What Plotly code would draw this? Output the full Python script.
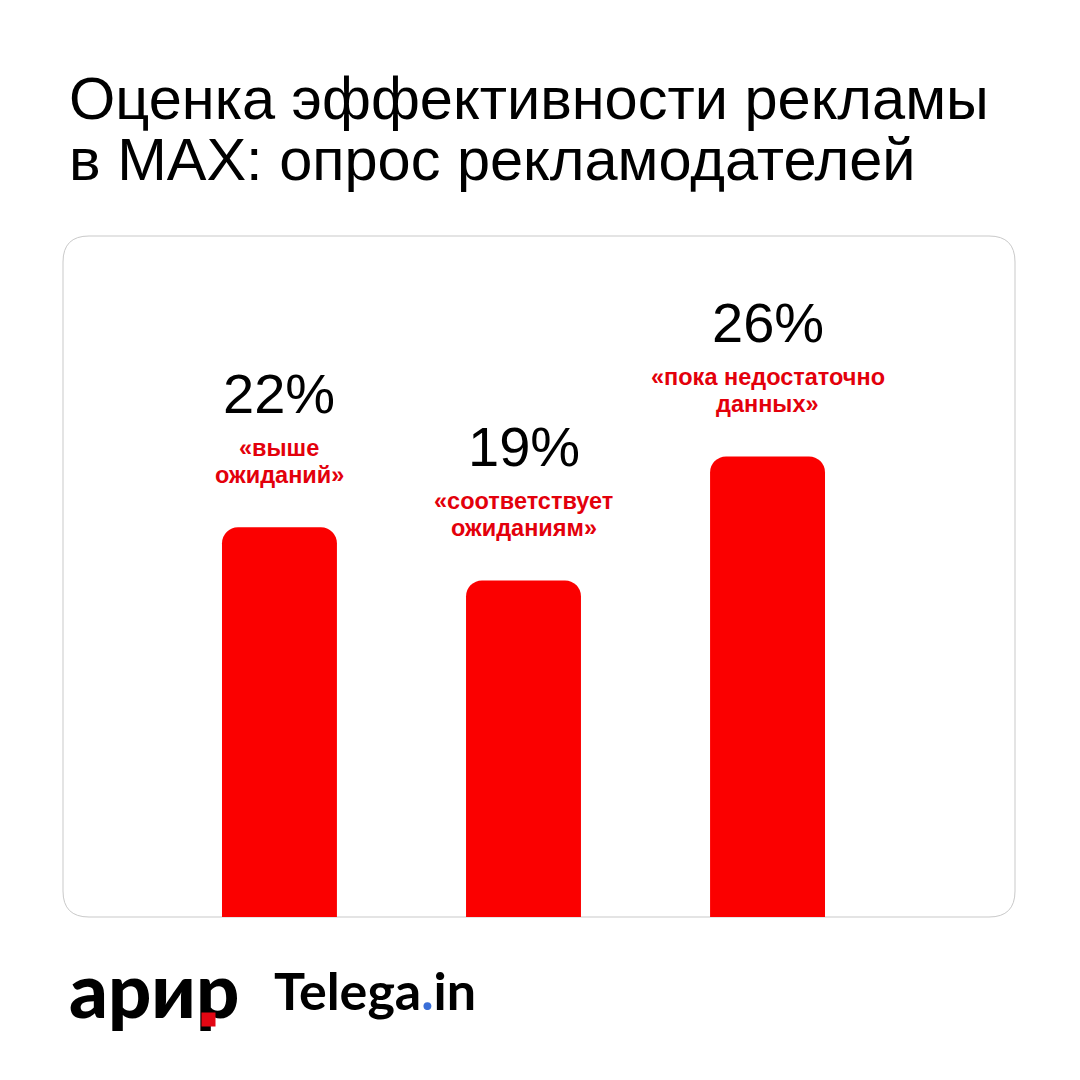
import plotly.graph_objects as go

# --- DATA ---
categories = ["выше ожиданий", "соответствует ожиданиям", "пока недостаточно данных"]
shares = [22, 19, 26]
pct_labels = ["22%", "19%", "26%"]
quote_labels = [
    ["«выше", "ожиданий»"],
    ["«соответствует", "ожиданиям»"],
    ["«пока недостаточно", "данных»"],
]
title_lines = ["Оценка эффективности рекламы", "в МАХ: опрос рекламодателей"]

# --- CANVAS / CARD GEOMETRY (screen pixels) ---
OFF = 8  # page body margin
W, H = 1080 - OFF, 1080 - OFF
CARD_L, CARD_R, CARD_T, CARD_B = 63, 1015, 236, 917
PW, PH = CARD_R - CARD_L, CARD_B - CARD_T
RED = "#fb0000"
LABEL_RED = "#e3000b"


def px(x):
    return (x - CARD_L) / PW


def py(y):
    return (CARD_B - y) / PH


xs = list(range(len(categories)))

fig = go.Figure()
fig.add_trace(go.Bar(
    x=xs, y=shares, width=0.471,
    marker=dict(color=RED, line=dict(width=0)),
    hoverinfo="skip",
))

# rounded white card behind the plot
r = 26
rx, ry = r / PW, r / PH
card_path = (
    f"M {rx},0 L {1 - rx},0 Q 1,0 1,{ry} L 1,{1 - ry} Q 1,1 {1 - rx},1 "
    f"L {rx},1 Q 0,1 0,{1 - ry} L 0,{ry} Q 0,0 {rx},0 Z"
)
fig.add_shape(type="path", path=card_path, xref="paper", yref="paper",
              fillcolor="white", line=dict(color="#c9c9c9", width=1), layer="below")

annotations = []
# title
for i, line in enumerate(title_lines):
    annotations.append(dict(
        text=line, x=px(67), y=py(98 + i * 61), xref="paper", yref="paper",
        xanchor="left", yanchor="middle", showarrow=False,
        font=dict(family="Liberation Sans, Arial", size=59.5, color="#000000"),
    ))

# value + quote labels above the bars
for xi, v, p, q in zip(xs, shares, pct_labels, quote_labels):
    annotations.append(dict(
        text=p, x=xi, y=v, xref="x", yref="y", xanchor="center", yanchor="middle",
        yshift=134, showarrow=False,
        font=dict(family="Liberation Sans, Arial", size=56, color="#000000"),
    ))
    for j, line in enumerate(q):
        annotations.append(dict(
            text=line, x=xi, y=v, xref="x", yref="y", xanchor="center", yanchor="middle",
            yshift=79 - j * 27, showarrow=False,
            font=dict(family="Liberation Sans, Arial", size=23.5, color=LABEL_RED, weight="bold"),
        ))

# logos
annotations.append(dict(
    text="арир", x=px(67), y=py(988), xref="paper", yref="paper",
    xanchor="left", yanchor="middle", showarrow=False,
    font=dict(family="Lato", size=76, color="#000000", weight=900),
))
# red square on the last letter, drawn after the text so it sits on top
annotations.append(dict(
    text="", x=px(208), y=py(1019), xref="paper", yref="paper",
    xanchor="center", yanchor="middle", showarrow=False,
    width=13, height=13, borderpad=0, bgcolor="#e30613",
    font=dict(size=1),
))
annotations.append(dict(
    text="Telega<span style='color:#3a6fd8'>.</span>in", x=px(272), y=py(990),
    xref="paper", yref="paper", xanchor="left", yanchor="middle", showarrow=False,
    font=dict(family="Lato", size=52, color="#000000", weight="bold"),
))

fig.update_layout(
    width=W, height=H,
    margin=dict(l=CARD_L - OFF, r=1080 - CARD_R, t=CARD_T - OFF, b=1080 - CARD_B),
    paper_bgcolor="#ffffff", plot_bgcolor="rgba(0,0,0,0)",
    barcornerradius=16, showlegend=False,
    xaxis=dict(range=[-0.887, 3.014], visible=False, fixedrange=True),
    yaxis=dict(range=[0, 38.44], visible=False, fixedrange=True),
    annotations=annotations,
)

fig.write_html("out.html")
